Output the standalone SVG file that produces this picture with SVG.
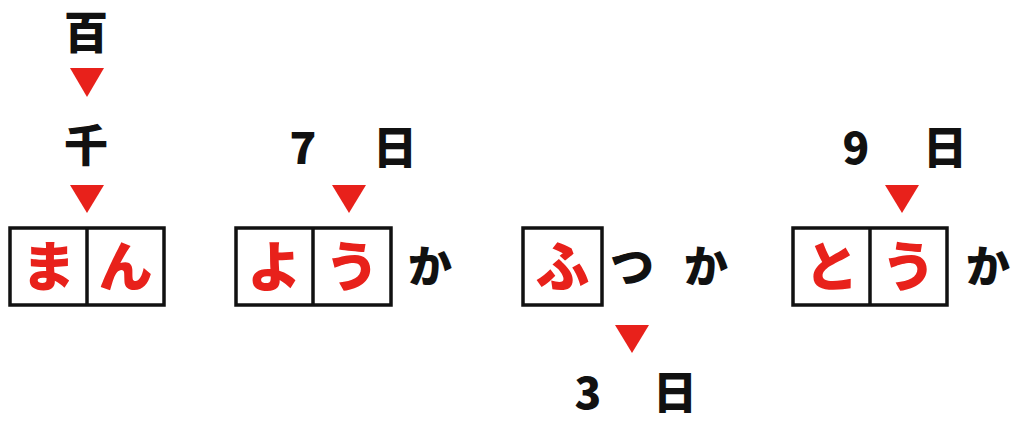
<svg xmlns="http://www.w3.org/2000/svg" width="1021" height="421" viewBox="0 0 1021 421">
<style>
.bx{fill:#fff;stroke:#111;stroke-width:3.5}
.dv{stroke:#111;stroke-width:3.5}
.r{fill:#e8211b;font-family:"Noto Sans CJK JP",sans-serif;font-weight:900;font-size:54px;text-anchor:middle}
.k{fill:#111;font-family:"Noto Sans CJK JP",sans-serif;font-weight:900;font-size:44px;text-anchor:middle}
.t{fill:#e8211b}
</style>
<rect width="1021" height="421" fill="#fff"/>
<g id="connectors">
<polygon class="t" points="70,68 104,68 87,97"/>
<polygon class="t" points="70,185 104,185 87,213"/>
<polygon class="t" points="332,185 366,185 349,213"/>
<polygon class="t" points="615,325 649,325 632,353"/>
<polygon class="t" points="885,185 919,185 902,213"/>
</g>
<g id="n-hyaku"><text class="k" x="86" y="49">百</text></g>
<g id="n-sen"><text class="k" x="86" y="162">千</text></g>
<g id="n-man">
<rect class="bx" x="10" y="228" width="154" height="77"/>
<line class="dv" x1="87" y1="228" x2="87" y2="305"/>
<text class="r" x="48.5" y="287">ま</text>
<text class="r" x="125.5" y="287">ん</text>
</g>
<g id="n-7ka-label"><text class="k" x="303" y="164">7</text><text class="k" x="395" y="164">日</text></g>
<g id="n-youka">
<rect class="bx" x="236" y="228" width="155" height="77"/>
<line class="dv" x1="313" y1="228" x2="313" y2="305"/>
<text class="r" x="274.5" y="287">よ</text>
<text class="r" x="352" y="287">う</text>
<text class="k" x="430" y="283">か</text>
</g>
<g id="n-futsuka">
<rect class="bx" x="523" y="228" width="79" height="77"/>
<text class="r" x="562.5" y="287">ふ</text>
<text class="k" x="632" y="283">つ</text>
<text class="k" x="706" y="283">か</text>
</g>
<g id="n-3ka-label"><text class="k" x="588" y="409">3</text><text class="k" x="675" y="409">日</text></g>
<g id="n-9ka-label"><text class="k" x="856" y="164">9</text><text class="k" x="945" y="164">日</text></g>
<g id="n-touka">
<rect class="bx" x="793" y="228" width="154" height="77"/>
<line class="dv" x1="870" y1="228" x2="870" y2="305"/>
<text class="r" x="831.5" y="287">と</text>
<text class="r" x="908.5" y="287">う</text>
<text class="k" x="988" y="283">か</text>
</g>
</svg>
